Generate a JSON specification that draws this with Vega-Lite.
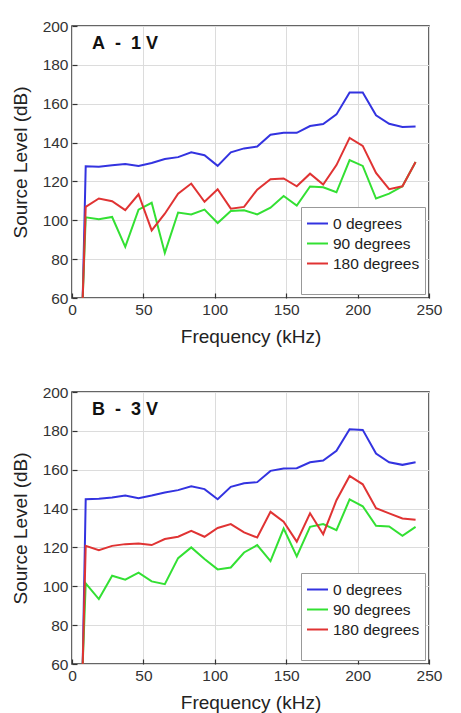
{
  "$schema": "https://vega.github.io/schema/vega-lite/v6.json",
  "background": "white",
  "padding": {"left": 10, "top": 18, "right": 10, "bottom": 5},
  "config": {
    "font": "Liberation Sans",
    "view": {"stroke": "#333", "strokeWidth": 1.5},
    "axis": {
      "labelFont": "Liberation Sans", "labelFontSize": 15.5, "labelColor": "#333",
      "titleFont": "Liberation Sans", "titleFontSize": 19, "titleFontWeight": "normal", "titleColor": "#222",
      "gridColor": "#dcdcdc", "gridWidth": 1, "tickSize": -5, "tickColor": "#333", "tickWidth": 1.2, "domain": false, "labelPadding": 9
    },
    "legend": {
      "orient": "bottom-right", "offset": 4, "fillColor": "white", "strokeColor": "#999",
      "padding": 5, "labelFont": "Liberation Sans", "labelFontSize": 15.5, "labelColor": "#222",
      "symbolType": "stroke", "symbolSize": 441, "symbolStrokeWidth": 2, "labelOffset": 4,
      "rowPadding": 0, "titleOrient": "bottom", "titleFontSize": 14, "titlePadding": 3, "titleColor": "white"
    }
  },
  "datasets": {
    "d": [
      {"p":"A","s":"0 degrees","f":7.5,"v":60},{"p":"A","s":"0 degrees","f":9.6,"v":127.8},{"p":"A","s":"0 degrees","f":18.8,"v":127.5},{"p":"A","s":"0 degrees","f":28.1,"v":128.3},{"p":"A","s":"0 degrees","f":37.3,"v":129},{"p":"A","s":"0 degrees","f":46.6,"v":128},{"p":"A","s":"0 degrees","f":55.8,"v":129.5},{"p":"A","s":"0 degrees","f":65.0,"v":131.5},{"p":"A","s":"0 degrees","f":74.3,"v":132.5},{"p":"A","s":"0 degrees","f":83.5,"v":135},{"p":"A","s":"0 degrees","f":92.8,"v":133.5},{"p":"A","s":"0 degrees","f":102.0,"v":128},{"p":"A","s":"0 degrees","f":111.2,"v":135},{"p":"A","s":"0 degrees","f":120.5,"v":137},{"p":"A","s":"0 degrees","f":129.7,"v":138},{"p":"A","s":"0 degrees","f":139.0,"v":144},{"p":"A","s":"0 degrees","f":148.2,"v":145},{"p":"A","s":"0 degrees","f":157.4,"v":145},{"p":"A","s":"0 degrees","f":166.7,"v":148.5},{"p":"A","s":"0 degrees","f":175.9,"v":149.5},{"p":"A","s":"0 degrees","f":185.2,"v":154.5},{"p":"A","s":"0 degrees","f":194.4,"v":165.8},{"p":"A","s":"0 degrees","f":203.6,"v":165.8},{"p":"A","s":"0 degrees","f":212.9,"v":154},{"p":"A","s":"0 degrees","f":222.1,"v":149.7},{"p":"A","s":"0 degrees","f":231.4,"v":148},{"p":"A","s":"0 degrees","f":240.6,"v":148.3},
      {"p":"A","s":"90 degrees","f":7.5,"v":60},{"p":"A","s":"90 degrees","f":9.6,"v":101.5},{"p":"A","s":"90 degrees","f":18.8,"v":100.5},{"p":"A","s":"90 degrees","f":28.1,"v":101.7},{"p":"A","s":"90 degrees","f":37.3,"v":86.3},{"p":"A","s":"90 degrees","f":46.6,"v":105.5},{"p":"A","s":"90 degrees","f":55.8,"v":109},{"p":"A","s":"90 degrees","f":65.0,"v":83.2},{"p":"A","s":"90 degrees","f":74.3,"v":104},{"p":"A","s":"90 degrees","f":83.5,"v":103},{"p":"A","s":"90 degrees","f":92.8,"v":105.5},{"p":"A","s":"90 degrees","f":102.0,"v":98.6},{"p":"A","s":"90 degrees","f":111.2,"v":104.8},{"p":"A","s":"90 degrees","f":120.5,"v":105.2},{"p":"A","s":"90 degrees","f":129.7,"v":103},{"p":"A","s":"90 degrees","f":139.0,"v":106.5},{"p":"A","s":"90 degrees","f":148.2,"v":112.5},{"p":"A","s":"90 degrees","f":157.4,"v":107.6},{"p":"A","s":"90 degrees","f":166.7,"v":117.4},{"p":"A","s":"90 degrees","f":175.9,"v":117},{"p":"A","s":"90 degrees","f":185.2,"v":114.4},{"p":"A","s":"90 degrees","f":194.4,"v":131},{"p":"A","s":"90 degrees","f":203.6,"v":128},{"p":"A","s":"90 degrees","f":212.9,"v":111.2},{"p":"A","s":"90 degrees","f":222.1,"v":113.7},{"p":"A","s":"90 degrees","f":231.4,"v":117.5},{"p":"A","s":"90 degrees","f":240.6,"v":130},
      {"p":"A","s":"180 degrees","f":7.5,"v":60},{"p":"A","s":"180 degrees","f":9.6,"v":106.9},{"p":"A","s":"180 degrees","f":18.8,"v":111.2},{"p":"A","s":"180 degrees","f":28.1,"v":109.8},{"p":"A","s":"180 degrees","f":37.3,"v":105.2},{"p":"A","s":"180 degrees","f":46.6,"v":113.4},{"p":"A","s":"180 degrees","f":55.8,"v":94.8},{"p":"A","s":"180 degrees","f":65.0,"v":103.4},{"p":"A","s":"180 degrees","f":74.3,"v":113.7},{"p":"A","s":"180 degrees","f":83.5,"v":118.9},{"p":"A","s":"180 degrees","f":92.8,"v":109.5},{"p":"A","s":"180 degrees","f":102.0,"v":116},{"p":"A","s":"180 degrees","f":111.2,"v":106},{"p":"A","s":"180 degrees","f":120.5,"v":106.9},{"p":"A","s":"180 degrees","f":129.7,"v":115.8},{"p":"A","s":"180 degrees","f":139.0,"v":121.1},{"p":"A","s":"180 degrees","f":148.2,"v":121.5},{"p":"A","s":"180 degrees","f":157.4,"v":117.5},{"p":"A","s":"180 degrees","f":166.7,"v":124},{"p":"A","s":"180 degrees","f":175.9,"v":118.4},{"p":"A","s":"180 degrees","f":185.2,"v":128.4},{"p":"A","s":"180 degrees","f":194.4,"v":142.4},{"p":"A","s":"180 degrees","f":203.6,"v":138.3},{"p":"A","s":"180 degrees","f":212.9,"v":124.4},{"p":"A","s":"180 degrees","f":222.1,"v":116},{"p":"A","s":"180 degrees","f":231.4,"v":117.5},{"p":"A","s":"180 degrees","f":240.6,"v":130},
      {"p":"B","s":"0 degrees","f":7.5,"v":60},{"p":"B","s":"0 degrees","f":9.6,"v":144.8},{"p":"B","s":"0 degrees","f":18.8,"v":145},{"p":"B","s":"0 degrees","f":28.1,"v":145.7},{"p":"B","s":"0 degrees","f":37.3,"v":146.7},{"p":"B","s":"0 degrees","f":46.6,"v":145.3},{"p":"B","s":"0 degrees","f":55.8,"v":146.7},{"p":"B","s":"0 degrees","f":65.0,"v":148.3},{"p":"B","s":"0 degrees","f":74.3,"v":149.5},{"p":"B","s":"0 degrees","f":83.5,"v":151.5},{"p":"B","s":"0 degrees","f":92.8,"v":150},{"p":"B","s":"0 degrees","f":102.0,"v":144.8},{"p":"B","s":"0 degrees","f":111.2,"v":151.2},{"p":"B","s":"0 degrees","f":120.5,"v":153},{"p":"B","s":"0 degrees","f":129.7,"v":153.6},{"p":"B","s":"0 degrees","f":139.0,"v":159.4},{"p":"B","s":"0 degrees","f":148.2,"v":160.6},{"p":"B","s":"0 degrees","f":157.4,"v":160.8},{"p":"B","s":"0 degrees","f":166.7,"v":163.8},{"p":"B","s":"0 degrees","f":175.9,"v":164.7},{"p":"B","s":"0 degrees","f":185.2,"v":169.7},{"p":"B","s":"0 degrees","f":194.4,"v":180.8},{"p":"B","s":"0 degrees","f":203.6,"v":180.5},{"p":"B","s":"0 degrees","f":212.9,"v":168.3},{"p":"B","s":"0 degrees","f":222.1,"v":163.8},{"p":"B","s":"0 degrees","f":231.4,"v":162.5},{"p":"B","s":"0 degrees","f":240.6,"v":163.8},
      {"p":"B","s":"90 degrees","f":7.5,"v":60},{"p":"B","s":"90 degrees","f":9.6,"v":101.5},{"p":"B","s":"90 degrees","f":18.8,"v":93.4},{"p":"B","s":"90 degrees","f":28.1,"v":105.4},{"p":"B","s":"90 degrees","f":37.3,"v":103.4},{"p":"B","s":"90 degrees","f":46.6,"v":107},{"p":"B","s":"90 degrees","f":55.8,"v":102.5},{"p":"B","s":"90 degrees","f":65.0,"v":101.1},{"p":"B","s":"90 degrees","f":74.3,"v":114.5},{"p":"B","s":"90 degrees","f":83.5,"v":120},{"p":"B","s":"90 degrees","f":92.8,"v":114},{"p":"B","s":"90 degrees","f":102.0,"v":108.7},{"p":"B","s":"90 degrees","f":111.2,"v":109.7},{"p":"B","s":"90 degrees","f":120.5,"v":117.4},{"p":"B","s":"90 degrees","f":129.7,"v":121.2},{"p":"B","s":"90 degrees","f":139.0,"v":113},{"p":"B","s":"90 degrees","f":148.2,"v":129.7},{"p":"B","s":"90 degrees","f":157.4,"v":115.4},{"p":"B","s":"90 degrees","f":166.7,"v":130.6},{"p":"B","s":"90 degrees","f":175.9,"v":132},{"p":"B","s":"90 degrees","f":185.2,"v":128.9},{"p":"B","s":"90 degrees","f":194.4,"v":144.7},{"p":"B","s":"90 degrees","f":203.6,"v":141.2},{"p":"B","s":"90 degrees","f":212.9,"v":131.1},{"p":"B","s":"90 degrees","f":222.1,"v":130.8},{"p":"B","s":"90 degrees","f":231.4,"v":126},{"p":"B","s":"90 degrees","f":240.6,"v":130.6},
      {"p":"B","s":"180 degrees","f":7.5,"v":60},{"p":"B","s":"180 degrees","f":9.6,"v":120.8},{"p":"B","s":"180 degrees","f":18.8,"v":118.6},{"p":"B","s":"180 degrees","f":28.1,"v":120.8},{"p":"B","s":"180 degrees","f":37.3,"v":121.7},{"p":"B","s":"180 degrees","f":46.6,"v":122},{"p":"B","s":"180 degrees","f":55.8,"v":121.2},{"p":"B","s":"180 degrees","f":65.0,"v":124.3},{"p":"B","s":"180 degrees","f":74.3,"v":125.5},{"p":"B","s":"180 degrees","f":83.5,"v":128.5},{"p":"B","s":"180 degrees","f":92.8,"v":125.5},{"p":"B","s":"180 degrees","f":102.0,"v":130},{"p":"B","s":"180 degrees","f":111.2,"v":132},{"p":"B","s":"180 degrees","f":120.5,"v":127.7},{"p":"B","s":"180 degrees","f":129.7,"v":125.1},{"p":"B","s":"180 degrees","f":139.0,"v":138.3},{"p":"B","s":"180 degrees","f":148.2,"v":133.3},{"p":"B","s":"180 degrees","f":157.4,"v":123},{"p":"B","s":"180 degrees","f":166.7,"v":137.6},{"p":"B","s":"180 degrees","f":175.9,"v":126.8},{"p":"B","s":"180 degrees","f":185.2,"v":144.3},{"p":"B","s":"180 degrees","f":194.4,"v":156.8},{"p":"B","s":"180 degrees","f":203.6,"v":152.5},{"p":"B","s":"180 degrees","f":212.9,"v":140.2},{"p":"B","s":"180 degrees","f":222.1,"v":137.5},{"p":"B","s":"180 degrees","f":231.4,"v":134.9},{"p":"B","s":"180 degrees","f":240.6,"v":134.2}
    ]
  },
  "spacing": 36,
  "resolve": {"scale": {"color": "independent"}, "legend": {"color": "independent"}},
  "vconcat": [
    {
      "width": 357, "height": 272,
      "data": {"name": "d"},
      "transform": [{"filter": "datum.p === 'A'"}],
      "title": {"text": "A\u00a0\u00a0-\u00a0\u00a01\u00a0V", "anchor": "start", "frame": "group", "dx": 20, "offset": -34, "fontSize": 18, "fontWeight": "bold", "color": "#111", "font": "Liberation Sans"},
      "mark": {"type": "line", "strokeWidth": 2, "clip": true},
      "encoding": {
        "x": {"field": "f", "type": "quantitative", "scale": {"domain": [0, 250], "nice": false}, "axis": {"values": [0, 50, 100, 150, 200, 250], "title": "Frequency (kHz)", "labelFlush": false, "titlePadding": 10}},
        "y": {"field": "v", "type": "quantitative", "scale": {"domain": [60, 200], "nice": false, "zero": false}, "axis": {"values": [60, 80, 100, 120, 140, 160, 180, 200], "title": "Source Level (dB)", "titlePadding": 12}},
        "color": {"field": "s", "type": "nominal", "scale": {"domain": ["0 degrees", "90 degrees", "180 degrees"], "range": ["#3333e0", "#33e033", "#e03333"]}, "legend": {"title": "\u00a0"}}
      }
    },
    {
      "width": 357, "height": 272,
      "data": {"name": "d"},
      "transform": [{"filter": "datum.p === 'B'"}],
      "title": {"text": "B\u00a0\u00a0-\u00a0\u00a03\u00a0V", "anchor": "start", "frame": "group", "dx": 20, "offset": -34, "fontSize": 18, "fontWeight": "bold", "color": "#111", "font": "Liberation Sans"},
      "mark": {"type": "line", "strokeWidth": 2, "clip": true},
      "encoding": {
        "x": {"field": "f", "type": "quantitative", "scale": {"domain": [0, 250], "nice": false}, "axis": {"values": [0, 50, 100, 150, 200, 250], "title": "Frequency (kHz)", "labelFlush": false, "titlePadding": 10}},
        "y": {"field": "v", "type": "quantitative", "scale": {"domain": [60, 200], "nice": false, "zero": false}, "axis": {"values": [60, 80, 100, 120, 140, 160, 180, 200], "title": "Source Level (dB)", "titlePadding": 12}},
        "color": {"field": "s", "type": "nominal", "scale": {"domain": ["0 degrees", "90 degrees", "180 degrees"], "range": ["#3333e0", "#33e033", "#e03333"]}, "legend": {"title": "\u00a0"}}
      }
    }
  ]
}
